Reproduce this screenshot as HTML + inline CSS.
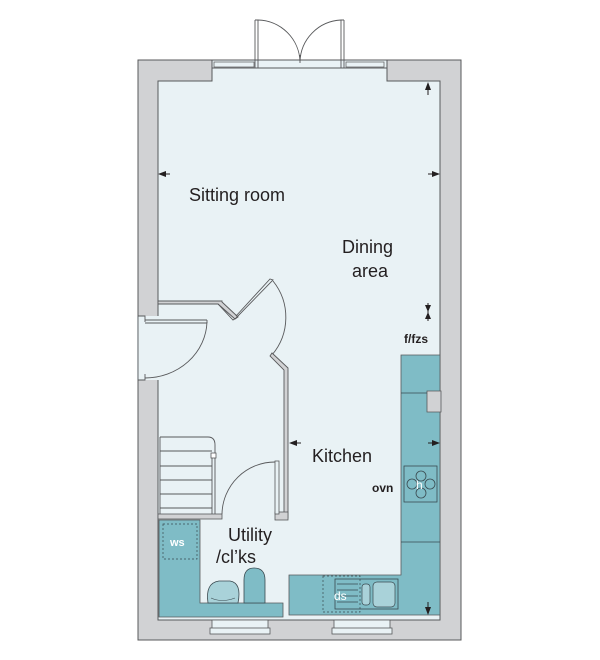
<!DOCTYPE html>
<html><head><style>body{margin:0;background:#fff}svg{display:block}text{font-family:"Liberation Sans",sans-serif}</style></head>
<body>
<svg width="600" height="660" viewBox="0 0 600 660" xmlns="http://www.w3.org/2000/svg">
<rect x="138" y="60" width="323" height="580" fill="#d1d2d4" stroke="#58595b" stroke-width="1"/>
<path d="M158,81 H212 V68 H387 V81 H440 V620 H158 Z" fill="#e9f2f5" stroke="#58595b" stroke-width="1"/>
<rect x="212" y="60" width="175" height="8" fill="#e9f2f5" stroke="#58595b" stroke-width="1"/>
<rect x="214" y="62" width="40" height="5" fill="#e9f2f5" stroke="#58595b" stroke-width="0.7"/>
<rect x="346" y="62" width="38" height="5" fill="#e9f2f5" stroke="#58595b" stroke-width="0.7"/>
<path d="M255,20 V68 M258,20 V68 M255,20 H258 M341,20 V68 M344,20 V68 M341,20 H344" stroke="#58595b" stroke-width="0.9" fill="none"/>
<path d="M258,20 A43,43 0 0 1 300,62 M341,20 A43,43 0 0 0 300,62 M300,55 V63" stroke="#58595b" stroke-width="0.9" fill="none"/>
<rect x="212" y="620" width="56" height="12" fill="#e9f2f5" stroke="#58595b" stroke-width="0.8"/>
<rect x="210" y="628" width="60" height="6" fill="#e9f2f5" stroke="#58595b" stroke-width="0.8"/>
<rect x="334" y="620" width="56" height="12" fill="#e9f2f5" stroke="#58595b" stroke-width="0.8"/>
<rect x="332" y="628" width="60" height="6" fill="#e9f2f5" stroke="#58595b" stroke-width="0.8"/>
<rect x="137" y="316" width="22" height="64" fill="#e9f2f5"/>
<path d="M138,316 V380 M138,316 H145 V322 M138,380 H145 V374 M145,320 H207 M145,323 H207 M207,320 V323" stroke="#58595b" stroke-width="0.9" fill="none"/>
<path d="M207,322 A62,58 0 0 1 145,378" stroke="#58595b" stroke-width="0.9" fill="none"/>
<path d="M158,304 H218 L235,319 L238,317 L222,302 V301 H158 Z" fill="#d1d2d4" stroke="#58595b" stroke-width="0.9"/>
<path d="M158,304 H218 L233,320 L236,318 L273,280 L270,279 L236,316" stroke="#58595b" stroke-width="0.9" fill="none"/>
<path d="M273,281 A58,58 0 0 1 272,355" stroke="#58595b" stroke-width="0.9" fill="none"/>
<path d="M270,356 L272,353 L288,368 V518 H284 V370 Z" fill="#d1d2d4" stroke="#58595b" stroke-width="0.9"/>
<path d="M160,437 H208 Q215,437 215,445 V517 M160,451 H212 M160,466 H212 M160,480 H212 M160,494 H212 M160,508 H212 M212,455 V517 M160,437 V517" stroke="#58595b" stroke-width="0.9" fill="none"/>
<rect x="211" y="453" width="5" height="5" fill="#fff" stroke="#58595b" stroke-width="0.8"/>
<rect x="158" y="514" width="64" height="5" fill="#d1d2d4" stroke="#58595b" stroke-width="0.8"/>
<rect x="275" y="512" width="13" height="8" fill="#d1d2d4" stroke="#58595b" stroke-width="0.8"/>
<rect x="275" y="461" width="4" height="53" fill="#e9f2f5" stroke="#58595b" stroke-width="0.8"/>
<path d="M275,462 A53,53 0 0 0 222,514" stroke="#58595b" stroke-width="0.9" fill="none"/>
<path d="M159,520 H200 V603 H283 V617 H159 Z" fill="#7fbcc6" stroke="#58595b" stroke-width="0.8"/>
<rect x="163" y="524" width="34" height="35" fill="none" stroke="#3a4a50" stroke-width="0.7" stroke-dasharray="2,2"/>
<text x="170" y="546" font-size="11" fill="#fff" font-weight="bold">ws</text>
<path d="M208,603 Q205,583 219,581 H230 Q242,583 238,603 Z" fill="#a9d2d9" stroke="#3a4a50" stroke-width="0.8"/>
<path d="M211,598 Q222,603 235,598" fill="none" stroke="#3a4a50" stroke-width="0.6"/>
<path d="M244,603 V580 Q244,568 254,568 Q265,568 265,580 V603 Z" fill="#7fbcc6" stroke="#3a4a50" stroke-width="0.8"/>
<path d="M289,575 H401 V355 H440 V615 H289 Z" fill="#7fbcc6" stroke="#58595b" stroke-width="0.8"/>
<path d="M441,391 H427 V412 H441 Z" fill="#d1d2d4" stroke="#58595b" stroke-width="0.8"/>
<path d="M401,393 H427 M401,542 H440" stroke="#3a4a50" stroke-width="0.8"/>
<rect x="404" y="466" width="33" height="36" fill="none" stroke="#3a4a50" stroke-width="0.8"/>
<circle cx="421" cy="476" r="5" fill="none" stroke="#3a4a50" stroke-width="0.8"/>
<circle cx="421" cy="493" r="5" fill="none" stroke="#3a4a50" stroke-width="0.8"/>
<circle cx="412" cy="484" r="5" fill="none" stroke="#3a4a50" stroke-width="0.8"/>
<circle cx="430" cy="484" r="5" fill="none" stroke="#3a4a50" stroke-width="0.8"/>
<text x="416" y="489" font-size="12" fill="#fff">h</text>
<rect x="323" y="576" width="37" height="36" fill="none" stroke="#3a4a50" stroke-width="0.7" stroke-dasharray="2,2"/>
<rect x="335" y="579" width="63" height="30" fill="none" stroke="#3a4a50" stroke-width="0.8"/>
<path d="M337,584 H358 M337,590 H358 M337,596 H358 M337,602 H358" stroke="#3a4a50" stroke-width="0.7"/>
<rect x="362" y="584" width="8" height="21" rx="3" fill="#a9d2d9" stroke="#3a4a50" stroke-width="0.7"/>
<rect x="373" y="582" width="22" height="25" rx="4" fill="#a9d2d9" stroke="#3a4a50" stroke-width="0.7"/>
<text x="334" y="600" font-size="12" fill="#fff">ds</text>
<g fill="#231f20">
<path d="M428,82 L425,90 H431 Z"/><path d="M428,90 V95" stroke="#231f20"/>
<path d="M440,174 L432,171 V177 Z"/><path d="M432,174 H428" stroke="#231f20"/>
<path d="M158,174 L166,171 V177 Z"/><path d="M166,174 H170" stroke="#231f20"/>
<path d="M428,312 L425,305 H431 Z M428,312 L425,319 H431 Z"/><path d="M428,303 V321" stroke="#231f20"/>
<path d="M289,443 L297,440 V446 Z"/><path d="M297,443 H301" stroke="#231f20"/>
<path d="M440,443 L432,440 V446 Z"/><path d="M432,443 H428" stroke="#231f20"/>
<path d="M428,615 L425,607 H431 Z"/><path d="M428,607 V602" stroke="#231f20"/>
</g>
<g fill="#231f20" font-size="18">
<text x="189" y="201">Sitting room</text>
<text x="342" y="253">Dining</text>
<text x="352" y="277">area</text>
<text x="312" y="462">Kitchen</text>
<text x="228" y="541">Utility</text>
<text x="216" y="563">/cl’ks</text>
</g>
<text x="404" y="343" font-size="12" fill="#231f20" font-weight="bold">f/fzs</text>
<text x="372" y="492" font-size="12" fill="#231f20" font-weight="bold">ovn</text>
</svg>
</body></html>
